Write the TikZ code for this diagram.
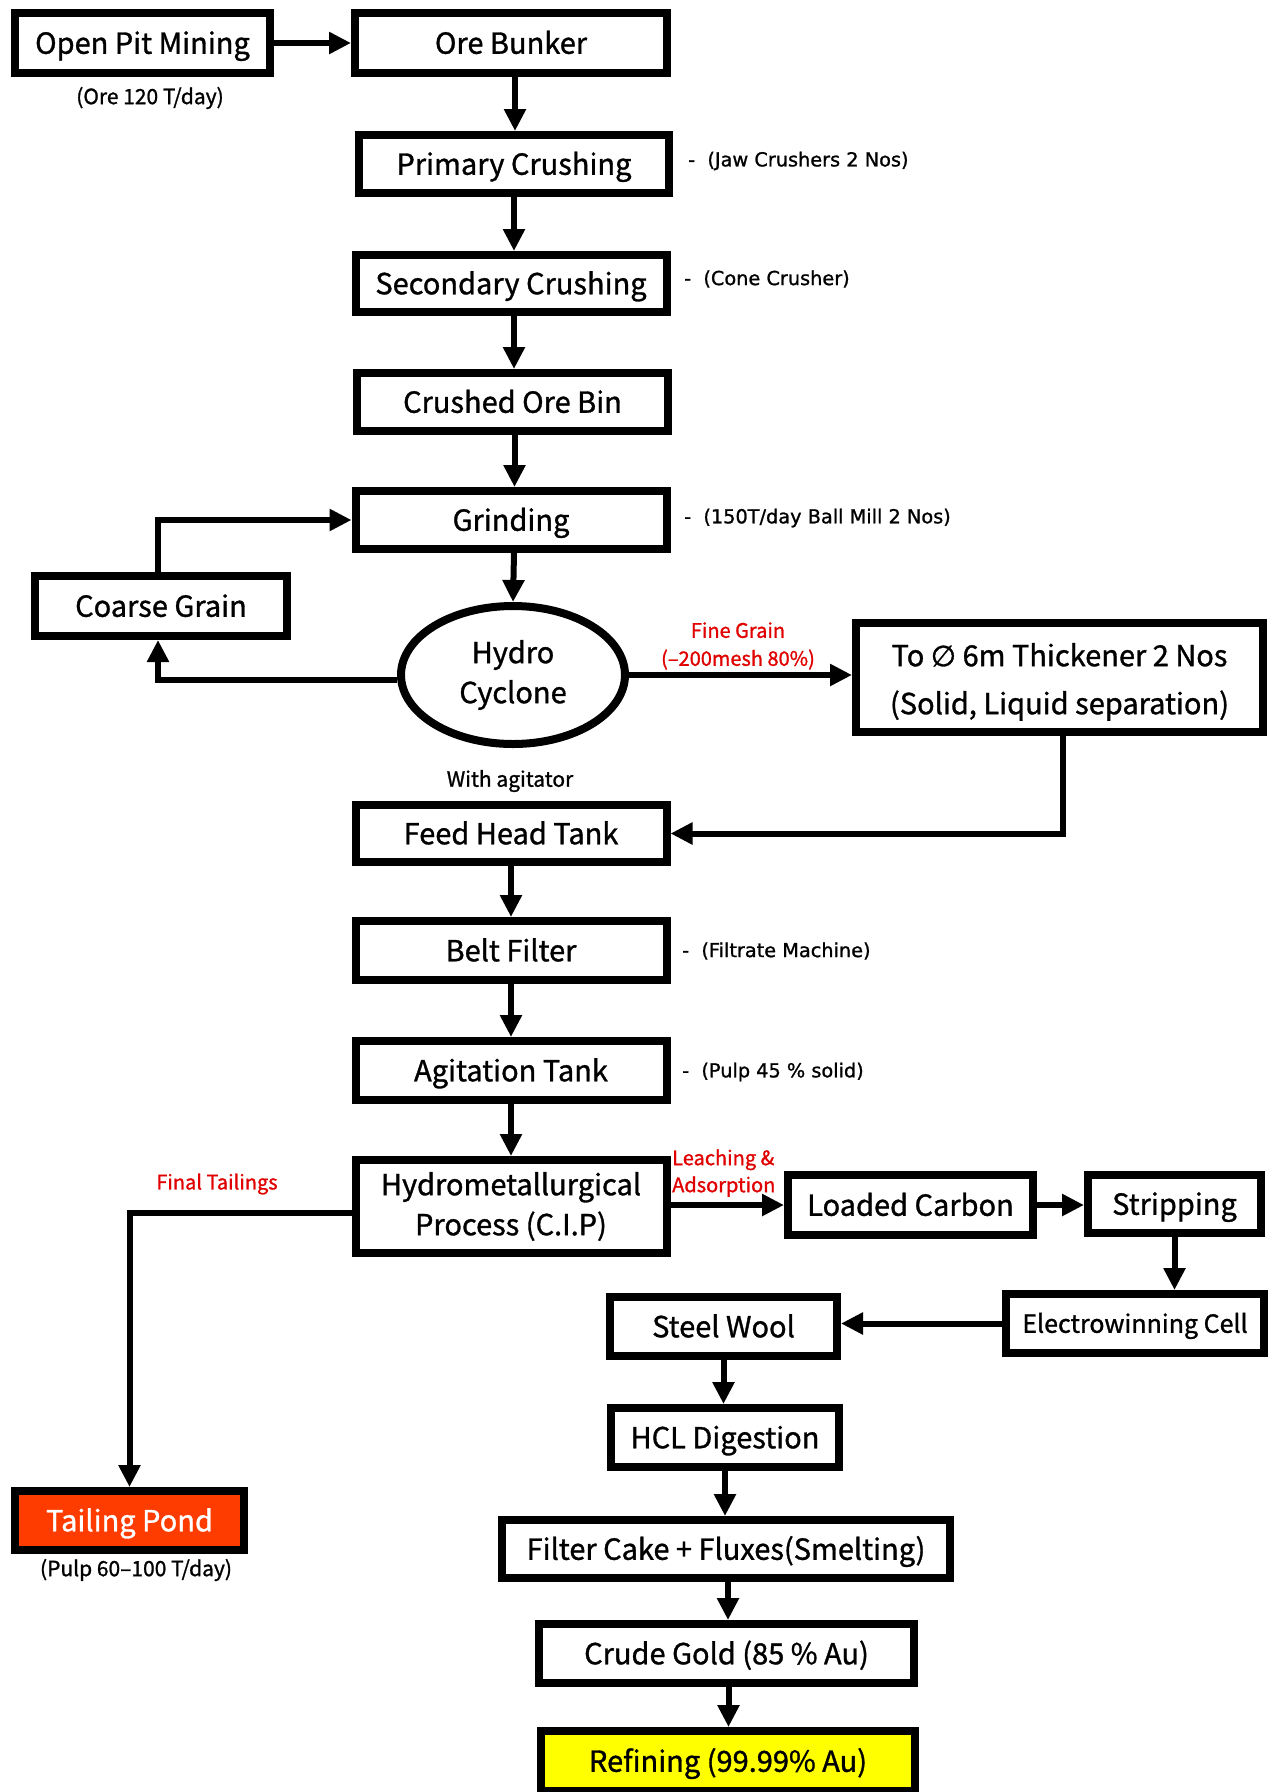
\documentclass[tikz,border=0pt]{standalone}
\usepackage{fontspec}
\setmainfont{Noto Sans CJK KR}[FakeBold=1.1]
\newfontfamily\sidefont{DejaVu Sans}[FakeBold=1.1]
\usetikzlibrary{arrows.meta,shapes.geometric,calc}
\definecolor{lblred}{RGB}{225,0,0}
\definecolor{pondred}{RGB}{255,60,0}
\definecolor{refyel}{RGB}{255,255,0}
\begin{document}
\begin{tikzpicture}[x=1pt,y=-1pt,
  box/.style={draw,line width=8pt,fill=white,inner sep=0pt,align=center,
    font=\fontsize{29}{40}\selectfont},
  one/.style={text height=28pt,text depth=6.5pt},
  arr/.style={line width=6pt,-{Triangle[length=22pt,width=21pt]}},
  side/.style={anchor=west,inner sep=0pt,font=\sidefont\fontsize{19.3}{23}\selectfont},
  note/.style={inner sep=0pt,align=center,font=\fontsize{21}{27}\selectfont},
  rednote/.style={note,text=lblred}]
\fill[white] (0,0) rectangle (1274,1792);
\useasboundingbox (0,0) rectangle (1274,1792);

\node[box,one,minimum width=255pt,minimum height=60pt] (open) at (142.5,43) {Open Pit Mining};
\node[box,one,minimum width=312pt,minimum height=60pt] (bunker) at (511,43) {Ore Bunker};
\node[box,one,minimum width=310pt,minimum height=58pt] (primary) at (514,164) {Primary Crushing};
\node[box,one,minimum width=311pt,minimum height=57pt] (secondary) at (511,283.5) {Secondary Crushing};
\node[box,one,minimum width=311pt,minimum height=58pt] (crushed) at (512.5,402) {Crushed Ore Bin};
\node[box,one,minimum width=311pt,minimum height=58pt] (grinding) at (511,520) {Grinding};
\node[box,one,minimum width=252pt,minimum height=60pt] (coarse) at (161,606) {Coarse Grain};
\node[box,ellipse,minimum width=224pt,minimum height=138pt] (hydro) at (513,675) {Hydro\\Cyclone};
\node[box,minimum width=407pt,minimum height=109pt,font=\fontsize{29}{48}\selectfont] (thick) at (1059.5,677.5) {\rule{0pt}{32pt}To {\sidefont ∅} 6m Thickener 2 Nos\\(Solid, Liquid separation)};
\node[box,one,minimum width=311pt,minimum height=57pt] (feed) at (511,833.5) {Feed Head Tank};
\node[box,one,minimum width=311pt,minimum height=59pt] (belt) at (511,950.5) {Belt Filter};
\node[box,one,minimum width=311pt,minimum height=59pt] (agit) at (511,1070.5) {Agitation Tank};
\node[box,minimum width=311pt,minimum height=93pt] (cip) at (511,1206.5) {Hydrometallurgical\\Process (C.I.P)};
\node[box,one,minimum width=245pt,minimum height=60pt] (loaded) at (910.5,1205) {Loaded Carbon};
\node[box,one,minimum width=173pt,minimum height=58pt] (strip) at (1174.5,1204) {Stripping};
\node[box,minimum width=258pt,minimum height=59pt,font=\fontsize{25}{30}\selectfont,text height=24pt,text depth=5.5pt] (electro) at (1135,1323.5) {Electrowinning Cell};
\node[box,one,minimum width=227pt,minimum height=59pt] (steel) at (723.5,1326.5) {Steel Wool};
\node[box,one,minimum width=228pt,minimum height=59pt] (hcl) at (725,1437.5) {HCL Digestion};
\node[box,one,minimum width=448pt,minimum height=58pt] (filter) at (726,1549) {Filter Cake + Fluxes(Smelting)};
\node[box,one,minimum width=375pt,minimum height=59pt] (crude) at (726.5,1653.5) {Crude Gold (85 \% Au)};
\node[box,one,minimum width=374pt,minimum height=60pt,fill=refyel] (refine) at (728,1761) {Refining (99.99\% Au)};
\node[box,one,minimum width=229pt,minimum height=59pt,fill=pondred,text=white] (pond) at (129.5,1520.5) {Tailing Pond};

% notes
\node[note] (n1) at (150,98) {(Ore 120 T/day)};
\node[side] (s1) at (688,161) {-\ \ (Jaw Crushers 2 Nos)};
\node[side] (s2) at (684,279) {-\ \ (Cone Crusher)};
\node[side] (s3) at (684,518) {-\ \ (150T/day Ball Mill 2 Nos)};
\node[rednote,font=\fontsize{20}{28}\selectfont] (fine) at (738,646) {Fine Grain\\(–200mesh 80\%)};
\node[note] (agitnote) at (510,781) {With agitator};
\node[side] (s4) at (682,951) {-\ \ (Filtrate Machine)};
\node[side] (s5) at (682,1072) {-\ \ (Pulp 45 \% solid)};
\node[rednote,font=\fontsize{20}{27}\selectfont] (final) at (217,1184) {Final Tailings};
\node[rednote,font=\fontsize{20}{27}\selectfont,anchor=west,align=left] (leach) at (672,1173) {Leaching \&\\Adsorption};
\node[note] (n2) at (136,1570) {(Pulp 60–100 T/day)};

% connectors
\draw[arr] (open.east) -- (bunker.west |- open.east);
\draw[arr] ([xshift=4pt]bunker.south) -- ([xshift=4pt]bunker.south |- primary.north);
\draw[arr] (primary.south) -- (primary.south |- secondary.north);
\draw[arr] ([xshift=3pt]secondary.south) -- ([xshift=3pt]secondary.south |- crushed.north);
\draw[arr] ([xshift=2pt]crushed.south) -- ([xshift=2pt]crushed.south |- grinding.north);
\draw[arr] ([xshift=3pt]grinding.south) -- (hydro.north);
\draw[arr] ([yshift=-5pt]hydro.west) -| ([xshift=-3pt]coarse.south);
\draw[arr] ([xshift=-3pt]coarse.north) |- (grinding.west);
\draw[arr] (hydro.east) -- (hydro.east -| thick.west);
\draw[arr] ([xshift=3pt]thick.south) |- (feed.east);
\draw[arr] (feed.south) -- (feed.south |- belt.north);
\draw[arr] (belt.south) -- (belt.south |- agit.north);
\draw[arr] (agit.south) -- (agit.south |- cip.north);
\draw[arr] ([yshift=-6pt]cip.west) -| (pond.north);
\draw[arr] (cip.east |- loaded.west) -- (loaded.west);
\draw[arr] (loaded.east) -- (loaded.east -| strip.west);
\draw[arr] (strip.south) -- (strip.south |- electro.north);
\draw[arr] (electro.west) -- (electro.west -| steel.east);
\draw[arr] (steel.south) -- (steel.south |- hcl.north);
\draw[arr] (hcl.south) -- (hcl.south |- filter.north);
\draw[arr] ([xshift=2pt]filter.south) -- ([xshift=2pt]filter.south |- crude.north);
\draw[arr] ([xshift=2pt]crude.south) -- ([xshift=2pt]crude.south |- refine.north);
\end{tikzpicture}
\end{document}
